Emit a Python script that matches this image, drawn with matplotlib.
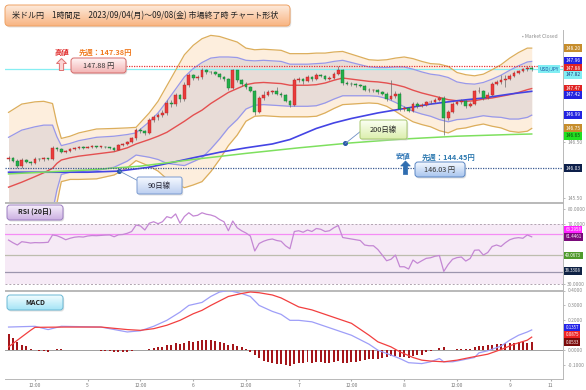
import numpy as np
import matplotlib
matplotlib.use('Agg')
import matplotlib.pyplot as plt
from matplotlib.patches import FancyBboxPatch, Polygon
from matplotlib.colors import LinearSegmentedColormap

plt.rcParams['font.family'] = ['Noto Sans CJK JP', 'DejaVu Sans']

# ---------------- data ----------------
hours = list(range(6, 126))          # hour index from Sep 4 00:00 (compressed axis)
open_first = 146.20
closes = [146.22, 146.17, 146.08, 146.18, 146.15, 146.12, 146.20, 146.19, 146.21, 146.20,
          146.40, 146.38, 146.33, 146.34, 146.38, 146.40, 146.41, 146.40, 146.42, 146.43,
          146.42, 146.42, 146.41, 146.40, 146.37, 146.45, 146.47, 146.50, 146.57, 146.72,
          146.70, 146.67, 146.90, 146.95, 146.99, 147.03, 147.21, 147.19, 147.35, 147.28,
          147.53, 147.71, 147.66, 147.68, 147.80, 147.77, 147.76, 147.74, 147.68, 147.64,
          147.48, 147.80, 147.62, 147.55, 147.50, 147.43, 147.05, 147.30, 147.36, 147.40,
          147.42, 147.38, 147.36, 147.25, 147.17, 147.62, 147.64, 147.60, 147.68, 147.64,
          147.72, 147.70, 147.65, 147.66, 147.74, 147.80, 147.57, 147.56, 147.55, 147.53,
          147.52, 147.45, 147.44, 147.44, 147.40, 147.38, 147.28, 147.33, 147.38, 147.10,
          147.12, 147.07, 147.20, 147.15, 147.18, 147.22, 147.23, 147.27, 147.30, 146.94,
          147.05, 147.20, 147.22, 147.25, 147.15, 147.20, 147.42, 147.43, 147.30, 147.36,
          147.56, 147.58, 147.62, 147.64, 147.70, 147.75, 147.78, 147.82, 147.85, 147.82]
highs = [146.26, 146.24, 146.19, 146.21, 146.20, 146.17, 146.23, 146.22, 146.23, 146.22,
         146.43, 146.42, 146.39, 146.36, 146.40, 146.42, 146.44, 146.43, 146.44, 146.45,
         146.44, 146.44, 146.43, 146.42, 146.41, 146.47, 146.49, 146.52, 146.60, 146.75,
         146.76, 146.72, 146.93, 147.00, 147.03, 147.08, 147.26, 147.27, 147.39, 147.38,
         147.58, 147.75, 147.74, 147.72, 147.84, 147.83, 147.79, 147.78, 147.75, 147.70,
         147.66, 147.83, 147.81, 147.64, 147.58, 147.52, 147.45, 147.34, 147.42, 147.44,
         147.45, 147.50, 147.40, 147.38, 147.27, 147.66, 147.68, 147.66, 147.71, 147.70,
         147.75, 147.74, 147.72, 147.69, 147.77, 147.88, 147.82, 147.60, 147.59, 147.57,
         147.56, 147.54, 147.48, 147.47, 147.46, 147.42, 147.40, 147.62, 147.42, 147.40,
         147.15, 147.14, 147.23, 147.22, 147.21, 147.25, 147.26, 147.30, 147.33, 147.33,
         147.09, 147.23, 147.25, 147.28, 147.27, 147.23, 147.45, 147.50, 147.45, 147.40,
         147.59, 147.62, 147.72, 147.72, 147.73, 147.78, 147.81, 147.85, 147.87, 147.87]
lows = [146.17, 146.14, 146.04, 146.03, 146.12, 146.09, 146.10, 146.17, 146.17, 146.18,
        146.18, 146.35, 146.31, 146.31, 146.32, 146.36, 146.38, 146.38, 146.39, 146.40,
        146.40, 146.40, 146.39, 146.38, 146.35, 146.36, 146.43, 146.45, 146.48, 146.55,
        146.66, 146.63, 146.65, 146.87, 146.90, 146.95, 147.00, 147.14, 147.16, 147.22,
        147.25, 147.50, 147.62, 147.63, 147.65, 147.74, 147.73, 147.71, 147.65, 147.60,
        147.45, 147.46, 147.58, 147.52, 147.46, 147.40, 147.00, 147.03, 147.27, 147.33,
        147.37, 147.35, 147.32, 147.22, 147.13, 147.15, 147.59, 147.56, 147.58, 147.61,
        147.62, 147.67, 147.62, 147.63, 147.64, 147.72, 147.54, 147.53, 147.52, 147.50,
        147.49, 147.42, 147.41, 147.41, 147.37, 147.35, 147.25, 147.26, 147.30, 147.07,
        147.07, 147.04, 147.05, 147.12, 147.13, 147.16, 147.20, 147.21, 147.25, 146.63,
        146.90, 147.03, 147.18, 147.19, 147.12, 147.13, 147.18, 147.39, 147.27, 147.28,
        147.34, 147.53, 147.55, 147.50, 147.62, 147.68, 147.73, 147.76, 147.79, 147.79]

# Bollinger bands (20, +-2 sigma / +-3 sigma) read at sample hours
bb_h = [6, 9, 12, 14, 16, 17, 18, 20, 22, 26, 30, 33, 35, 38, 40, 42, 44, 46, 48, 50,
        52, 54, 56, 58, 60, 62, 64, 66, 68, 70, 72, 74, 76, 78, 80, 82, 84, 86, 88, 90,
        92, 94, 96, 98, 100, 102, 104, 106, 108, 110, 112, 114, 116, 118, 120, 122, 124, 125]
bb_mid = [145.69, 145.78, 145.88, 145.95, 146.03, 146.12, 146.18, 146.22, 146.25, 146.29,
          146.33, 146.40, 146.47, 146.55, 146.61, 146.68, 146.78, 146.88, 146.99, 147.08,
          147.20, 147.30, 147.40, 147.47, 147.54, 147.57, 147.58, 147.57, 147.56, 147.53,
          147.53, 147.53, 147.54, 147.57, 147.62, 147.66, 147.64, 147.62, 147.60, 147.59,
          147.57, 147.54, 147.50, 147.44, 147.39, 147.35, 147.31, 147.27, 147.25, 147.24,
          147.25, 147.28, 147.30, 147.33, 147.36, 147.40, 147.45, 147.47]
bb_u3 = [147.04, 147.19, 147.23, 147.24, 147.20, 146.84, 146.57, 146.61, 146.67, 146.74,
         146.75, 146.76, 146.77, 147.03, 147.24, 147.52, 147.80, 148.08, 148.25, 148.37,
         148.43, 148.41, 148.36, 148.31, 148.20, 148.17, 148.18, 148.17, 148.16, 148.10,
         148.10, 148.10, 148.11, 148.11, 148.13, 148.14, 148.09, 148.04, 147.99, 147.98,
         147.99, 148.02, 148.04, 148.01, 147.96, 147.92, 147.91, 147.87, 147.76, 147.72,
         147.70, 147.73, 147.81, 147.90, 148.02, 148.12, 148.20, 148.20]
bb_u2 = [146.59, 146.72, 146.78, 146.81, 146.81, 146.60, 146.44, 146.48, 146.53, 146.59,
         146.61, 146.64, 146.67, 146.87, 147.03, 147.24, 147.46, 147.68, 147.83, 147.94,
         148.02, 148.04, 148.04, 148.03, 147.98, 147.97, 147.98, 147.97, 147.96, 147.91,
         147.91, 147.91, 147.92, 147.93, 147.96, 147.98, 147.94, 147.90, 147.86, 147.85,
         147.85, 147.86, 147.86, 147.82, 147.77, 147.73, 147.71, 147.67, 147.59, 147.56,
         147.55, 147.58, 147.64, 147.71, 147.80, 147.88, 147.95, 147.96]
bb_l2 = [144.79, 144.84, 144.98, 145.09, 145.25, 145.64, 145.92, 145.96, 145.97, 145.99,
         146.05, 146.16, 146.27, 146.23, 146.19, 146.12, 146.10, 146.08, 146.15, 146.22,
         146.38, 146.56, 146.76, 146.91, 147.10, 147.17, 147.18, 147.17, 147.16, 147.15,
         147.15, 147.15, 147.16, 147.21, 147.28, 147.34, 147.34, 147.34, 147.34, 147.33,
         147.29, 147.22, 147.14, 147.06, 147.01, 146.97, 146.91, 146.87, 146.91, 146.92,
         146.95, 146.98, 146.96, 146.95, 146.92, 146.92, 146.95, 146.99]
bb_l3 = [144.34, 144.37, 144.53, 144.66, 144.86, 145.40, 145.79, 145.83, 145.83, 145.84,
         145.91, 146.04, 146.17, 146.07, 145.98, 145.84, 145.76, 145.68, 145.73, 145.79,
         145.97, 146.19, 146.44, 146.63, 146.88, 146.97, 146.98, 146.97, 146.96, 146.96,
         146.96, 146.96, 146.97, 147.03, 147.11, 147.18, 147.19, 147.20, 147.21, 147.20,
         147.15, 147.06, 146.96, 146.87, 146.82, 146.78, 146.71, 146.67, 146.74, 146.76,
         146.80, 146.83, 146.79, 146.76, 146.70, 146.68, 146.70, 146.75]

ma90_h = [6, 24, 31, 38, 44, 48, 54, 60, 66, 70, 76, 80, 84, 90, 96, 102, 108, 114, 120, 125]
ma90 = [145.96, 145.96, 145.98, 146.05, 146.15, 146.22, 146.32, 146.40, 146.47, 146.55,
        146.75, 146.85, 146.93, 147.03, 147.11, 147.19, 147.25, 147.30, 147.37, 147.42]
ma200_h = [6, 24, 36, 48, 60, 72, 84, 96, 108, 120, 125]
ma200 = [145.93, 146.00, 146.07, 146.19, 146.30, 146.40, 146.49, 146.56, 146.61, 146.64, 146.65]

week_prev_high = 147.38
week_prev_low = 144.45

rsi = [59.3, 57.5, 56.0, 58.2, 57.8, 57.3, 57.6, 57.5, 57.6, 57.8,
       62.7, 62.2, 61.0, 59.5, 60.5, 61.2, 61.5, 61.3, 62.0, 62.3,
       62.2, 62.4, 62.6, 62.7, 61.5, 62.8, 63.0, 63.8, 65.0, 69.3,
       68.7, 66.0, 70.5, 71.5, 70.2, 71.5, 74.9, 74.0, 76.7, 70.5,
       75.0, 77.5, 75.3, 75.8, 77.5, 76.5, 76.0, 75.0, 73.0, 71.5,
       65.5, 72.0, 67.5, 65.5, 64.0, 62.0, 52.0, 57.0, 58.5, 59.5,
       60.0, 59.0, 58.5, 55.5, 53.5, 65.0, 65.5, 64.5, 66.0, 65.0,
       67.0, 66.5, 65.0, 65.5, 67.5, 69.0, 61.0, 60.5, 60.0, 59.5,
       59.0, 56.0, 55.5, 55.5, 53.0, 49.3, 45.5, 46.5, 49.3, 41.5,
       41.5, 40.0, 46.0, 43.8, 45.5, 47.1, 47.5, 48.5, 49.0, 38.4,
       43.0, 46.5, 47.6, 48.0, 45.3, 47.0, 52.5, 52.7, 49.3, 51.0,
       55.0, 56.0, 55.0, 57.5, 59.5, 60.5, 60.9, 60.5, 62.7, 61.4461]
rsi_levels = [63.2958, 49.0673, 38.3308]

macd_h = [6, 12, 15, 18, 27, 33, 36, 39, 42, 45, 47, 50, 52, 54, 56, 59, 61, 63, 66, 68,
          70, 72, 75, 77, 79, 81, 84, 86, 88, 90, 93, 95, 97, 100, 102, 104, 105, 107, 109, 112,
          113, 115, 118, 120, 122, 124, 125]
macd = [0.155, 0.16, 0.138, 0.16, 0.155, 0.122, 0.13, 0.16, 0.20, 0.255,
        0.30, 0.32, 0.36, 0.39, 0.40, 0.38, 0.36, 0.30, 0.26, 0.24,
        0.20, 0.20, 0.19, 0.17, 0.15, 0.13, 0.10, 0.07, 0.04, 0.0,
        -0.033, -0.056, -0.084, -0.09, -0.078, -0.056, -0.078, -0.078, -0.067, -0.049,
        -0.018, -0.004, 0.027, 0.067, 0.10, 0.122, 0.1357]
sig_h = [6, 9, 11, 12, 19, 27, 33, 36, 39, 42, 45, 48, 50, 52, 54, 56, 59, 61, 63, 66,
         68, 70, 72, 75, 77, 79, 81, 84, 86, 88, 90, 93, 95, 98, 100, 102, 105, 108, 111, 115,
         118, 121, 124, 125]
signal = [0.022, 0.089, 0.133, 0.153, 0.155, 0.155, 0.138, 0.133, 0.144, 0.167,
          0.20, 0.244, 0.267, 0.30, 0.33, 0.36, 0.38, 0.39, 0.385, 0.37,
          0.35, 0.32, 0.29, 0.27, 0.25, 0.23, 0.21, 0.18, 0.14, 0.10,
          0.056, 0.022, -0.011, -0.049, -0.067, -0.073, -0.078, -0.067, -0.049, -0.027,
          0.004, 0.04, 0.067, 0.0875]
hist = [0.11, 0.084, 0.056, 0.033, 0.027, 0.011, 0.002, -0.004, -0.008, -0.011,
        0.004, 0.007, 0.006, 0.004, 0.003, 0.004, 0.003, 0.002, 0.001, 0.0,
        -0.002, -0.003, -0.005, -0.007, -0.011, -0.012, -0.013, -0.012, -0.008, 0.002,
        0.003, 0.002, 0.01, 0.017, 0.02, 0.022, 0.033, 0.037, 0.045, 0.042,
        0.05, 0.06, 0.058, 0.06, 0.065, 0.066, 0.065, 0.06, 0.055, 0.048,
        0.035, 0.04, 0.03, 0.018, 0.005, -0.01, -0.035, -0.055, -0.07, -0.08,
        -0.085, -0.09, -0.095, -0.1, -0.105, -0.09, -0.085, -0.088, -0.082, -0.085,
        -0.078, -0.08, -0.085, -0.083, -0.078, -0.072, -0.085, -0.085, -0.08, -0.078,
        -0.072, -0.068, -0.062, -0.06, -0.056, -0.05, -0.048, -0.042, -0.038, -0.045,
        -0.048, -0.05, -0.04, -0.035, -0.03, -0.012, -0.006, 0.0, 0.012, 0.018,
        0.003, 0.0, 0.006, 0.008, 0.008, 0.01, 0.022, 0.03, 0.028, 0.033,
        0.036, 0.04, 0.042, 0.045, 0.048, 0.05, 0.052, 0.055, 0.05, 0.0533]

tick_pos = [12, 24, 36, 48, 60, 72, 84, 96, 108, 120, 129.3]
tick_lab = ['12:00', '5', '12:00', '6', '12:00', '7', '12:00', '8', '12:00', '9', '11']
price_ticks = [145.5, 146.5]
rsi_ticks = [30, 70, 80]
macd_ticks = [-0.1, 0.0, 0.2, 0.3, 0.4]
title = '米ドル円　1時間足　2023/09/04(月)～09/08(金) 市場終了時 チャート形状'

# ---------------- figure ----------------
W, H = 586, 390
fig = plt.figure(figsize=(W / 100, H / 100), dpi=100)
fig.patch.set_facecolor('white')


def px_axes(left, top, right, bottom):
    return fig.add_axes([left / W, 1 - bottom / H, (right - left) / W, (bottom - top) / H])


XL = (5.19, 132.05)
RIGHT = 562.7
ax_p = px_axes(5, 30, RIGHT, 202)
ax_r = px_axes(5, 203, RIGHT, 290)
ax_m = px_axes(5, 290.5, RIGHT, 379)

for ax in (ax_p, ax_r, ax_m):
    ax.set_xlim(*XL)
    ax.set_facecolor('white')
    ax.yaxis.tick_right()
    ax.tick_params(axis='y', labelsize=3.5, colors='#8a8a8a', length=1.5, pad=1.8, width=0.4)
    ax.spines['left'].set_visible(False)
    for s in ('top', 'right', 'bottom'):
        ax.spines[s].set_color('#b8b8b8')
        ax.spines[s].set_linewidth(0.7)
    ax.set_xticks(tick_pos)
    ax.tick_params(axis='x', length=0, labelbottom=False)

ax_p.spines['top'].set_visible(False)

# ---- price panel ----
ax_p.set_ylim(145.4224, 148.527)
ax_p.set_yticks(price_ticks)
ax_p.set_yticklabels(['%.2f' % v for v in price_ticks])

ax_p.fill_between(bb_h, bb_l3, bb_u3, color='#fdeedd', lw=0, zorder=1)
ax_p.fill_between(bb_h, bb_l2, bb_u2, color='#e8dcd7', lw=0, zorder=1.1)
for arr in (bb_u3, bb_l3):
    ax_p.plot(bb_h, arr, color='#dcae5c', lw=0.9, zorder=2)
for arr in (bb_u2, bb_l2):
    ax_p.plot(bb_h, arr, color='#9898ea', lw=0.9, zorder=2)
ax_p.plot(bb_h, bb_mid, color='#e45050', lw=1.0, zorder=2.2)
ax_p.plot(ma90_h, ma90, color='#4444e4', lw=1.2, zorder=2.3)
ax_p.plot(ma200_h, ma200, color='#7ee05e', lw=1.1, zorder=2.3)

last_close = closes[-1]
week_high = max(highs)
week_low = min(lows)
ax_p.axhline(last_close, color='#86eef2', lw=0.9, zorder=1.5)
ax_p.hlines(week_low, XL[0], XL[1], colors='#3b5a92', lw=0.9, linestyles=(0, (1, 1)), zorder=5)
ax_p.hlines(week_high, 32.7, XL[1], colors='#e83434', lw=0.9, linestyles=(0, (1, 1)), zorder=5)

opens = [open_first] + closes[:-1]
o = np.array(opens)
c = np.array(closes)
up = c >= o
bottoms = np.minimum(o, c)
heights = np.maximum(np.abs(c - o), 0.006)
hx = np.array(hours)
ax_p.vlines(hx, lows, highs, color='#6a6a6a', lw=0.5, zorder=3.9)
ax_p.bar(hx[up], heights[up], bottom=bottoms[up], width=0.62, color='#ea3b3b',
         edgecolor='#b42222', lw=0.3, zorder=4)
ax_p.bar(hx[~up], heights[~up], bottom=bottoms[~up], width=0.62, color='#24b04a',
         edgecolor='#137a30', lw=0.3, zorder=4)

dot90 = (31.2, float(np.interp(31.2, ma90_h, ma90)))
dot200 = (82.6, float(np.interp(82.6, ma200_h, ma200)))
ax_p.plot(*dot90, 'o', ms=2.6, color='#2a5aa8', zorder=8)
ax_p.plot(*dot200, 'o', ms=2.6, color='#2a5aa8', zorder=8)

# ---- RSI panel ----
ax_r.set_ylim(26.0, 84.0)
ax_r.set_yticks(rsi_ticks)
ax_r.set_yticklabels(['%.4f' % v for v in rsi_ticks])
ax_r.axhspan(30, 70, color='#f6eaf6', lw=0, zorder=0.5)
for lv in (70, 30):
    ax_r.axhline(lv, color='#b0a4b0', lw=0.7, linestyle=(0, (2, 2)), zorder=1)
ax_r.axhline(rsi_levels[0], color='#f58cf5', lw=0.9, zorder=1.2)
ax_r.axhline(rsi_levels[1], color='#bdbdae', lw=0.9, zorder=1.2)
ax_r.axhline(rsi_levels[2], color='#9c96ae', lw=0.9, zorder=1.2)
ax_r.plot(hours, rsi, color='#c487d4', lw=0.9, zorder=3)

# ---- MACD panel ----
ax_m.set_ylim(-0.1933, 0.40)
ax_m.set_yticks(macd_ticks)
ax_m.set_yticklabels(['%.4f' % v for v in macd_ticks])
ax_m.axhline(0, color='#a0a0a0', lw=0.7, zorder=1)
ax_m.bar(hours, hist, width=0.45, color='#a4161a', zorder=2)
ax_m.plot(macd_h, macd, color='#9e9ef8', lw=0.9, zorder=3)
ax_m.plot(sig_h, signal, color='#f23f3f', lw=0.9, zorder=3)
ax_m.tick_params(axis='x', labelbottom=True, length=1.5, color='#aaaaaa', labelsize=3.6,
                 labelcolor='#777777', pad=1.5)
ax_m.set_xticklabels(tick_lab)

# ---------------- overlay (pixel coordinates) ----------------
ov = fig.add_axes([0, 0, 1, 1], zorder=10)
ov.set_axis_off()


def grad_box(x0, y0, w, h, c_top, c_bot, edge, r=3, lw=0.7, z=20, shadow=True):
    if shadow:
        sh = FancyBboxPatch((x0 + 1.2, y0 + 1.5), w, h, boxstyle=f"round,pad=0,rounding_size={r}",
                            fc='#c8c8c8', ec='none', alpha=0.55, zorder=z - 1)
        ov.add_patch(sh)
    patch = FancyBboxPatch((x0, y0), w, h, boxstyle=f"round,pad=0,rounding_size={r}",
                           fc='none', ec=edge, lw=lw, zorder=z + 1)
    ov.add_patch(patch)
    grad = np.linspace(0, 1, 64).reshape(-1, 1)
    cmap = LinearSegmentedColormap.from_list('g', [c_top, c_bot])
    im = ov.imshow(grad, extent=(x0, x0 + w, y0 + h, y0), cmap=cmap, aspect='auto',
                   zorder=z, origin='upper', interpolation='bilinear')
    im.set_clip_path(patch)


# title
grad_box(5, 5, 285, 21, '#fdeadb', '#f8b482', '#efa264', r=4)
ov.text(12, 15.8, title, fontsize=5.8, color='#222222', va='center', ha='left', zorder=30)

# week high annotation
ov.text(62, 52.5, '高値', fontsize=5.3, color='#e02828', weight='bold', ha='center', va='center', zorder=30)
ov.text(79, 52, f'先週：{week_prev_high:.2f}円', fontsize=5.3, color='#f07a20', weight='bold',
        ha='left', va='center', zorder=30)
ov.add_patch(Polygon([(61.5, 58.5), (66.5, 63.5), (63.6, 63.5), (63.6, 70.5), (59.4, 70.5),
                      (59.4, 63.5), (56.5, 63.5)], closed=True, fc='#fbd3d3', ec='#e07070',
                     lw=0.7, zorder=30))
grad_box(71, 58, 55, 15, '#fff5f5', '#f3b3b3', '#d66a6a', r=3)
ov.text(98.5, 65.7, f'{week_high:.2f} 円', fontsize=5.2, color='#333333', ha='center', va='center', zorder=30)

# week low annotation
ov.text(403.5, 156, '安値', fontsize=5.3, color='#2f75b5', weight='bold', ha='center', va='center', zorder=30)
ov.text(422, 157, f'先週：{week_prev_low:.2f}円', fontsize=5.3, color='#2f7ab0', weight='bold',
        ha='left', va='center', zorder=30)
ov.add_patch(Polygon([(405.5, 161), (410.3, 166), (407.6, 166), (407.6, 174.5), (403.4, 174.5),
                      (403.4, 166), (400.7, 166)], closed=True, fc='#2f6db0', ec='#2f6db0',
                     lw=0.5, zorder=30))
grad_box(415, 162, 50, 15, '#f5f9ff', '#a8c5ee', '#5a86c4', r=3)
ov.text(440, 169.7, f'{week_low:.2f} 円', fontsize=5.2, color='#333333', ha='center', va='center', zorder=30)

# MA labels
grad_box(137, 177, 45, 17, '#f6f9ff', '#bccff0', '#7a9ad0', r=2)
ov.text(159.5, 185.7, '90日線', fontsize=5.3, color='#222233', ha='center', va='center', zorder=30)
grad_box(360, 120, 47, 19, '#fbfff3', '#dcefae', '#a8c870', r=2)
ov.text(383.5, 129.7, '200日線', fontsize=5.3, color='#222222', ha='center', va='center', zorder=30)

# panel title boxes
grad_box(7, 205, 56, 15, '#f7effb', '#cbb0e2', '#9b7cc0', r=3)
ov.text(35, 212.6, 'RSI (20日)', fontsize=5.0, color='#222222', weight='bold', ha='center', va='center', zorder=30)
grad_box(7, 295, 56, 15, '#f2fdff', '#a4e4f6', '#6ab8d4', r=3)
ov.text(35, 302.6, 'MACD', fontsize=5.0, color='#222222', weight='bold', ha='center', va='center', zorder=30)

ov.text(522, 37, '• Market Closed', fontsize=3.5, color='#8a8a8a', ha='left', va='center', zorder=30)
ov.text(539.5, 69, 'USD/JPY', fontsize=3.4, color='#1a4fa0', ha='left', va='center', zorder=30,
        bbox=dict(boxstyle='square,pad=0.25', fc='#80eef3', ec='none'))

# right-axis value labels (text, background, foreground, pixel y)
price_labels = [
    (f'{bb_u3[-1]:.2f}', '#c68d2c', 'white', 48.3),
    (f'{bb_u2[-1]:.2f}', '#2323e0', 'white', 61.0),
    (f'{week_high:.2f}', '#e02222', 'white', 68.0),
    (f'{last_close:.2f}', '#82eef4', '#1a3c80', 75.0),
    (f'{bb_mid[-1]:.2f}', '#e02222', 'white', 88.4),
    (f'{ma90[-1]:.2f}', '#2323e0', 'white', 95.0),
    (f'{bb_l2[-1]:.2f}', '#2323e0', 'white', 115.0),
    (f'{bb_l3[-1]:.2f}', '#c68d2c', 'white', 128.3),
    (f'{ma200[-1]:.2f}', '#22e022', '#114411', 135.7),
    (f'{week_low:.2f}', '#0d1f4a', 'white', 168.3),
]
rsi_labels = [
    (f'{rsi_levels[0]:.4f}', '#ff22ff', 'white', 229.4),
    (f'{rsi[-1]:.4f}', '#7a0a7a', 'white', 236.8),
    (f'{rsi_levels[1]:.4f}', '#4f9a2c', 'white', 255.3),
    (f'{rsi_levels[2]:.4f}', '#0f2244', 'white', 271.0),
]
macd_labels = [
    (f'{macd[-1]:.4f}', '#2323e8', 'white', 327.8),
    (f'{signal[-1]:.4f}', '#ee2222', 'white', 335.0),
    (f'{hist[-1]:.4f}', '#7a0a0a', 'white', 342.0),
]
for group, fs in ((price_labels, 3.5), (rsi_labels, 3.2), (macd_labels, 3.2)):
    for txt, bg, fg, yy in group:
        ov.text(565.3, yy, txt, fontsize=fs, color=fg, ha='left', va='center', zorder=40,
                bbox=dict(boxstyle='square,pad=0.28', fc=bg, ec='none'))

ov.set_xlim(0, W)
ov.set_ylim(H, 0)

# connectors from MA dots to their label boxes
inv = ov.transData.inverted()
for (dh, dv), (bx, by) in ((dot90, (137.5, 180.5)), (dot200, (361.0, 131.0))):
    px, py = inv.transform(ax_p.transData.transform((dh, dv)))
    ov.plot([px, bx], [py, by], color='#6f8fc4', lw=0.6, zorder=19)

fig.savefig('out.png', dpi=100, facecolor='white')
